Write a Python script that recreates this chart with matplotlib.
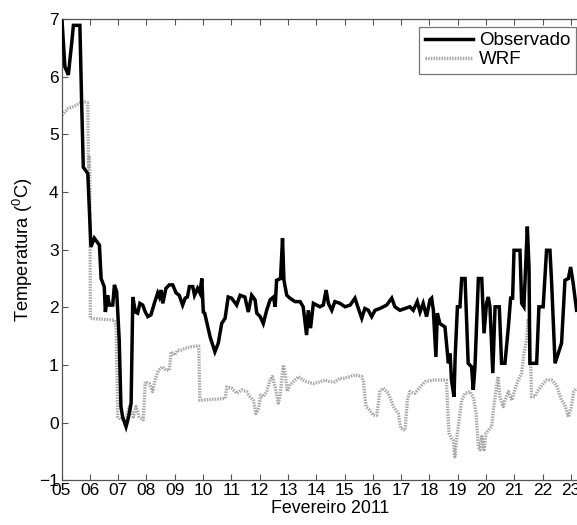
"""
Temperatura observada x WRF - Fevereiro 2011
"""
import matplotlib
matplotlib.use('Agg')
import matplotlib.pyplot as plt

plt.rcParams['font.family'] = ['Liberation Sans', 'DejaVu Sans']
plt.rcParams['mathtext.fontset'] = 'custom'
plt.rcParams['mathtext.rm'] = 'Liberation Sans'
plt.rcParams['mathtext.it'] = 'Liberation Sans'

# ── data (day of Feb 2011, temperature in C) ─────────────────────────────────
obs_day = [5.02, 5.12, 5.24, 5.36, 5.42, 5.65, 5.71, 5.77, 5.89, 5.93, 6.04, 6.16,
           6.34, 6.40, 6.51, 6.55, 6.63, 6.69, 6.81, 6.87, 6.95, 7.04, 7.10, 7.16,
           7.28, 7.37, 7.46, 7.52, 7.61, 7.69, 7.77, 7.87, 7.96, 8.05, 8.16, 8.28,
           8.40, 8.46, 8.52, 8.58, 8.69, 8.81, 8.93, 9.05, 9.16, 9.28, 9.37, 9.45,
           9.52, 9.64, 9.70, 9.81, 9.89, 9.96, 10.01, 10.06, 10.25, 10.42, 10.54,
           10.66, 10.78, 10.89, 11.01, 11.19, 11.31, 11.48, 11.60, 11.72, 11.84,
           11.90, 12.02, 12.13, 12.25, 12.37, 12.49, 12.55, 12.60, 12.74, 12.81,
           12.86, 12.96, 13.07, 13.25, 13.43, 13.54, 13.66, 13.72, 13.80, 13.90,
           14.13, 14.25, 14.35, 14.43, 14.55, 14.66, 14.84, 15.02, 15.20, 15.37,
           15.49, 15.61, 15.72, 15.84, 15.96, 16.08, 16.25, 16.49, 16.67, 16.78,
           16.96, 17.14, 17.31, 17.43, 17.57, 17.67, 17.78, 17.90, 18.02, 18.08,
           18.14, 18.23, 18.28, 18.37, 18.55, 18.67, 18.73, 18.78, 18.87, 18.91,
           18.99, 19.08, 19.14, 19.26, 19.37, 19.49, 19.55, 19.61, 19.73, 19.85,
           19.93, 20.02, 20.08, 20.14, 20.24, 20.32, 20.47, 20.55, 20.67, 20.79,
           20.87, 20.94, 20.99, 21.20, 21.26, 21.34, 21.40, 21.46, 21.52, 21.55,
           21.79, 21.87, 22.02, 22.14, 22.26, 22.32, 22.44, 22.55, 22.67, 22.79,
           22.91, 22.99, 23.08, 23.20]
obs_temp = [6.96, 6.17, 6.03, 6.58, 6.89, 6.89, 5.59, 4.43, 4.35, 4.32, 3.05, 3.20,
            3.08, 2.50, 2.36, 1.92, 2.21, 2.04, 2.04, 2.39, 2.27, 1.43, 0.28, 0.10,
            -0.07, 0.10, 0.34, 2.18, 1.92, 1.90, 2.07, 2.04, 1.92, 1.84, 1.87, 2.07,
            2.25, 2.18, 2.30, 2.07, 2.33, 2.39, 2.39, 2.25, 2.21, 2.04, 2.16, 2.18,
            2.36, 2.36, 2.21, 2.33, 2.25, 2.50, 1.92, 1.90, 1.49, 1.23, 1.38, 1.72,
            1.81, 2.18, 2.16, 2.04, 2.21, 2.18, 1.92, 2.21, 2.13, 1.90, 1.84, 1.72,
            1.95, 2.13, 2.18, 2.01, 2.47, 2.50, 3.20, 2.47, 2.21, 2.16, 2.10, 2.10,
            2.01, 1.52, 1.95, 1.64, 2.07, 2.01, 2.04, 2.30, 2.07, 1.95, 2.10, 2.07,
            2.01, 2.04, 2.16, 1.98, 1.81, 1.98, 1.95, 1.84, 1.95, 1.98, 2.04, 2.16,
            2.01, 1.95, 1.98, 2.01, 1.95, 2.10, 1.92, 2.07, 1.84, 2.13, 2.16, 1.95,
            1.14, 1.90, 1.72, 1.66, 1.03, 1.20, 0.74, 0.45, 1.14, 2.01, 2.01, 2.50,
            2.50, 1.03, 0.97, 0.57, 0.97, 2.50, 2.50, 1.55, 2.07, 2.18, 2.01, 0.86,
            2.01, 2.01, 1.03, 1.03, 1.66, 2.16, 2.16, 2.99, 2.99, 2.07, 2.01, 2.70,
            3.40, 2.70, 1.03, 1.03, 2.01, 2.01, 2.99, 2.99, 2.42, 1.03, 1.20, 1.38,
            2.47, 2.50, 2.70, 2.42, 1.95]

wrf_day = [5.02, 5.24, 5.42, 5.65, 5.83, 5.93, 5.95, 5.98, 6.00, 6.02, 6.87, 6.93,
           6.99, 7.11, 7.28, 7.40, 7.54, 7.63, 7.75, 7.89, 7.96, 8.10, 8.22, 8.30,
           8.43, 8.57, 8.69, 8.81, 8.87, 8.99, 9.11, 9.23, 9.35, 9.52, 9.76, 9.85,
           9.89, 10.78, 10.84, 11.01, 11.19, 11.37, 11.54, 11.66, 11.78, 11.87,
           11.95, 12.04, 12.13, 12.25, 12.37, 12.45, 12.55, 12.66, 12.72, 12.78,
           12.84, 12.90, 12.98, 13.07, 13.19, 13.37, 13.54, 13.66, 13.90, 14.13,
           14.31, 14.49, 14.66, 14.84, 14.96, 15.20, 15.37, 15.61, 15.67, 15.76,
           15.88, 16.02, 16.14, 16.25, 16.37, 16.55, 16.73, 16.90, 16.99, 17.14,
           17.22, 17.31, 17.49, 17.67, 17.84, 18.14, 18.60, 18.69, 18.78, 18.84,
           18.90, 18.96, 19.14, 19.26, 19.43, 19.55, 19.65, 19.73, 19.79, 19.85,
           19.93, 20.00, 20.08, 20.20, 20.26, 20.37, 20.43, 20.49, 20.61, 20.67,
           20.79, 20.91, 21.02, 21.14, 21.26, 21.34, 21.43, 21.49, 21.55, 21.61,
           21.73, 21.81, 21.97, 22.14, 22.32, 22.49, 22.67, 22.79, 22.91, 23.02,
           23.10, 23.20]
wrf_temp = [5.33, 5.45, 5.48, 5.54, 5.56, 5.54, 4.43, 4.61, 4.32, 1.81, 1.78, 1.66,
            0.10, 0.05, 0.10, 0.28, 0.10, 0.28, 0.10, 0.05, 0.71, 0.68, 0.54, 0.74,
            0.91, 0.97, 0.91, 0.91, 1.23, 1.17, 1.26, 1.26, 1.29, 1.31, 1.33, 1.33,
            0.39, 0.42, 0.62, 0.60, 0.51, 0.57, 0.54, 0.45, 0.39, 0.16, 0.22, 0.48,
            0.45, 0.54, 0.74, 0.80, 0.62, 0.34, 0.45, 0.74, 1.00, 0.86, 0.54, 0.65,
            0.71, 0.80, 0.74, 0.71, 0.68, 0.71, 0.74, 0.71, 0.71, 0.77, 0.77, 0.80,
            0.83, 0.80, 0.71, 0.28, 0.22, 0.13, 0.13, 0.54, 0.60, 0.51, 0.28, 0.16,
            -0.10, -0.13, 0.39, 0.54, 0.51, 0.62, 0.71, 0.74, 0.74, -0.18, -0.27,
            -0.30, -0.59, -0.30, 0.39, 0.51, 0.54, 0.45, 0.16, -0.42, -0.47, -0.24,
            -0.47, -0.18, -0.13, -0.07, 0.22, 0.62, 0.80, 0.45, 0.28, 0.39, 0.54,
            0.39, 0.57, 0.74, 0.86, 1.20, 1.43, 1.78, 1.55, 0.45, 0.45, 0.54, 0.65,
            0.74, 0.74, 0.65, 0.39, 0.31, 0.10, 0.28, 0.54, 0.60]

day_ticks = list(range(5, 24))
day_labels = ['%02d' % d for d in day_ticks]
temp_ticks = list(range(-1, 8))

# ── figure ────────────────────────────────────────────────────────────────────
fig = plt.figure(figsize=(5.77, 5.25), dpi=100)
fig.patch.set_facecolor('white')
ax = fig.add_axes([61.5 / 577, 44.6 / 525, 537.7 / 577, 461.4 / 525])

ax.plot(obs_day, obs_temp, color='black', lw=2.5, label='Observado',
        solid_joinstyle='miter', zorder=3)
ax.plot(wrf_day, wrf_temp, color='#a8a8a8', lw=2.4, linestyle=(0, (0.45, 0.35)),
        label='WRF', zorder=2)

ax.set_xlim(5, 24)
ax.set_ylim(-1, 7)
ax.set_xticks(day_ticks)
ax.set_xticklabels(day_labels)
ax.set_yticks(temp_ticks)
ax.tick_params(direction='in', length=4, width=0.8, top=True, right=True,
               labelsize=12.5, pad=2, colors='#555555', labelcolor='black')
for s in ax.spines.values():
    s.set_color('#555555')
    s.set_linewidth(0.9)

ax.set_xlabel('Fevereiro 2011', fontsize=12.8, labelpad=1)
ax.set_ylabel(r'Temperatura ($^{0}$C)', fontsize=13.2, labelpad=3)

leg = ax.legend(loc='upper left', bbox_to_anchor=(419 / 577, 1 - 26.5 / 525),
                bbox_transform=fig.transFigure, fontsize=13.5, frameon=True,
                fancybox=False, edgecolor='#777777', framealpha=1,
                handlelength=2.6, handletextpad=0.3, borderpad=0.3,
                labelspacing=0.1, borderaxespad=0)
leg.get_frame().set_linewidth(0.9)

plt.savefig('out.png', dpi=100, facecolor='white')
plt.close()
